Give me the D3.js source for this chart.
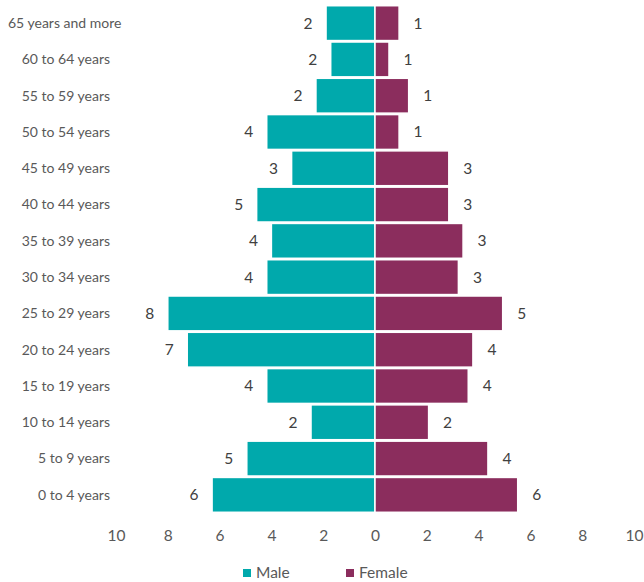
<!DOCTYPE html>
<html>
<head>
<meta charset="utf-8">
<script src="https://cdn.jsdelivr.net/npm/d3@7"></script>
<style>
  html, body { margin: 0; padding: 0; background: #fff; }
  svg { display: block; }
  text { font-family: Lato, "Open Sans", sans-serif; }
</style>
</head>
<body>
<svg id="chart" width="644" height="582"></svg>
<script>
// Age groups, oldest at the top
const ageGroups = [
  "65 years and more", "60 to 64 years", "55 to 59 years", "50 to 54 years",
  "45 to 49 years", "40 to 44 years", "35 to 39 years", "30 to 34 years",
  "25 to 29 years", "20 to 24 years", "15 to 19 years", "10 to 14 years",
  "5 to 9 years", "0 to 4 years"
];
// Share of population (%) per age group
const maleValues   = [1.89, 1.71, 2.28, 4.18, 3.22, 4.57, 4.00, 4.18, 8.00, 7.25, 4.18, 2.47, 4.95, 6.29];
const femaleValues = [0.93, 0.54, 1.30, 0.93, 2.85, 2.85, 3.40, 3.22, 4.93, 3.78, 3.60, 2.07, 4.36, 5.51];
const seriesNames  = ["Male", "Female"];
const seriesColors = ["#00a9ac", "#8b2d5d"];
const axisTicks    = [-10, -8, -6, -4, -2, 0, 2, 4, 6, 8, 10];

const svg = d3.select("#chart");

const x = d3.scaleLinear().domain([-10, 10]).range([116, 634]);
const y = d3.scaleBand().domain(ageGroups).range([5, 513]).paddingInner(0.04).paddingOuter(0.02);

const rows = ageGroups.map((g, i) => ({ group: g, male: maleValues[i], female: femaleValues[i] }));
const fmt = d3.format(".0f");

// Bars: male to the left of zero, female to the right
const gBars = svg.append("g");
gBars.selectAll("rect.male").data(rows).join("rect")
  .attr("class", "male")
  .attr("x", d => x(-d.male))
  .attr("y", d => y(d.group))
  .attr("width", d => x(0) - x(-d.male))
  .attr("height", y.bandwidth())
  .attr("fill", seriesColors[0])
  .attr("stroke", "#fff").attr("stroke-width", 1.5);

gBars.selectAll("rect.female").data(rows).join("rect")
  .attr("class", "female")
  .attr("x", x(0))
  .attr("y", d => y(d.group))
  .attr("width", d => x(d.female) - x(0))
  .attr("height", y.bandwidth())
  .attr("fill", seriesColors[1])
  .attr("stroke", "#fff").attr("stroke-width", 1.5);

// Value labels just outside each bar end
const gVals = svg.append("g")
  .attr("font-size", 15.5).attr("fill", "#404040").attr("text-anchor", "middle");
gVals.selectAll("text.m").data(rows).join("text")
  .attr("class", "m")
  .attr("x", d => x(-d.male) - 18)
  .attr("y", d => y(d.group) + y.bandwidth() / 2)
  .attr("dy", "0.35em")
  .text(d => fmt(d.male));
gVals.selectAll("text.f").data(rows).join("text")
  .attr("class", "f")
  .attr("x", d => x(d.female) + 19)
  .attr("y", d => y(d.group) + y.bandwidth() / 2)
  .attr("dy", "0.35em")
  .text(d => fmt(d.female));

// Category labels on the left
const gCats = svg.append("g").attr("font-size", 14).attr("fill", "#595959");
gCats.selectAll("text").data(ageGroups).join("text")
  .attr("y", d => y(d) + y.bandwidth() / 2)
  .attr("dy", "0.35em")
  .text(d => d)
  .each(function () {
    const w = this.getComputedTextLength();
    const right = Math.max(110, 8 + w);
    d3.select(this).attr("x", right).attr("text-anchor", "end");
  });

// Horizontal value axis, absolute values on both sides
const axis = d3.axisBottom(x).tickValues(axisTicks).tickSize(0).tickPadding(0)
  .tickFormat(d => Math.abs(d));
const gAxis = svg.append("g").attr("transform", "translate(0,530)").call(axis);
gAxis.select(".domain").remove();
gAxis.selectAll("text")
  .attr("font-family", "Lato, 'Open Sans', sans-serif")
  .attr("font-size", 15.5).attr("fill", "#595959")
  .attr("dy", "0.72em");

// Legend
const legend = svg.append("g").attr("transform", "translate(243,573)");
const items = legend.selectAll("g").data(seriesNames).join("g")
  .attr("transform", (d, i) => `translate(${i * 103},0)`);
items.append("rect").attr("x", 0).attr("y", -4).attr("width", 8).attr("height", 8)
  .attr("fill", (d, i) => seriesColors[i]);
items.append("text").attr("x", 13).attr("dy", "0.35em")
  .attr("font-size", 15.5).attr("fill", "#595959").text(d => d);
</script>
</body>
</html>
